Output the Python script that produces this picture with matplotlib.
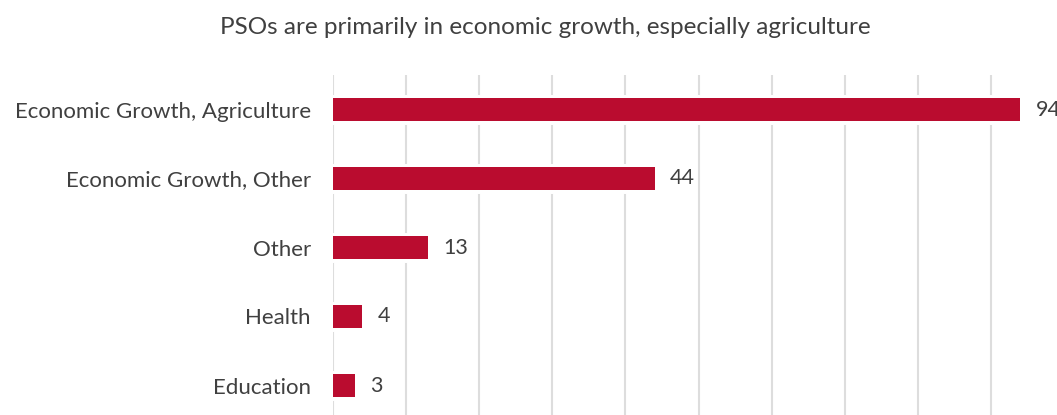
import matplotlib
matplotlib.use('Agg')
import matplotlib.pyplot as plt

categories = ['Economic Growth, Agriculture', 'Economic Growth, Other', 'Other', 'Health', 'Education']
counts = [94, 44, 13, 4, 3]
grid_ticks = [0, 10, 20, 30, 40, 50, 60, 70, 80, 90, 100]

bar_color = '#BA0C2F'
text_color = '#404040'
plt.rcParams['font.family'] = ['Lato', 'DejaVu Sans']

fig = plt.figure(figsize=(10.57, 4.15), dpi=100)
ax = fig.add_axes([333 / 1057, 1 - 420 / 415, 731 / 1057, 345 / 415])

ypos = list(range(len(categories)))
ax.barh(ypos, counts, height=0.34, color=bar_color, edgecolor='white', linewidth=5, zorder=3)
ax.barh(ypos, counts, height=0.34, color=bar_color, zorder=4)

for y, v in zip(ypos, counts):
    ax.annotate(str(v), (v, y), xytext=(11, 0), textcoords='offset points',
                ha='left', va='center', fontsize=15.5, color=text_color, annotation_clip=False)

ax.set_xlim(0, 100)
ax.set_ylim(len(categories) - 0.5, -0.5)
ax.set_xticks(grid_ticks)
ax.set_xticklabels([])
ax.set_yticks(ypos)
ax.set_yticklabels(categories, fontsize=16, color=text_color)
ax.tick_params(axis='both', length=0)
ax.tick_params(axis='y', pad=16)
ax.grid(axis='x', color='#dddddd', linewidth=1.5, zorder=0)
ax.set_axisbelow(True)
for s in ax.spines.values():
    s.set_visible(False)

fig.text(0.516, 1 - 28 / 415, 'PSOs are primarily in economic growth, especially agriculture',
         ha='center', va='center', fontsize=17.5, color=text_color)

fig.savefig('out.png', dpi=100)
